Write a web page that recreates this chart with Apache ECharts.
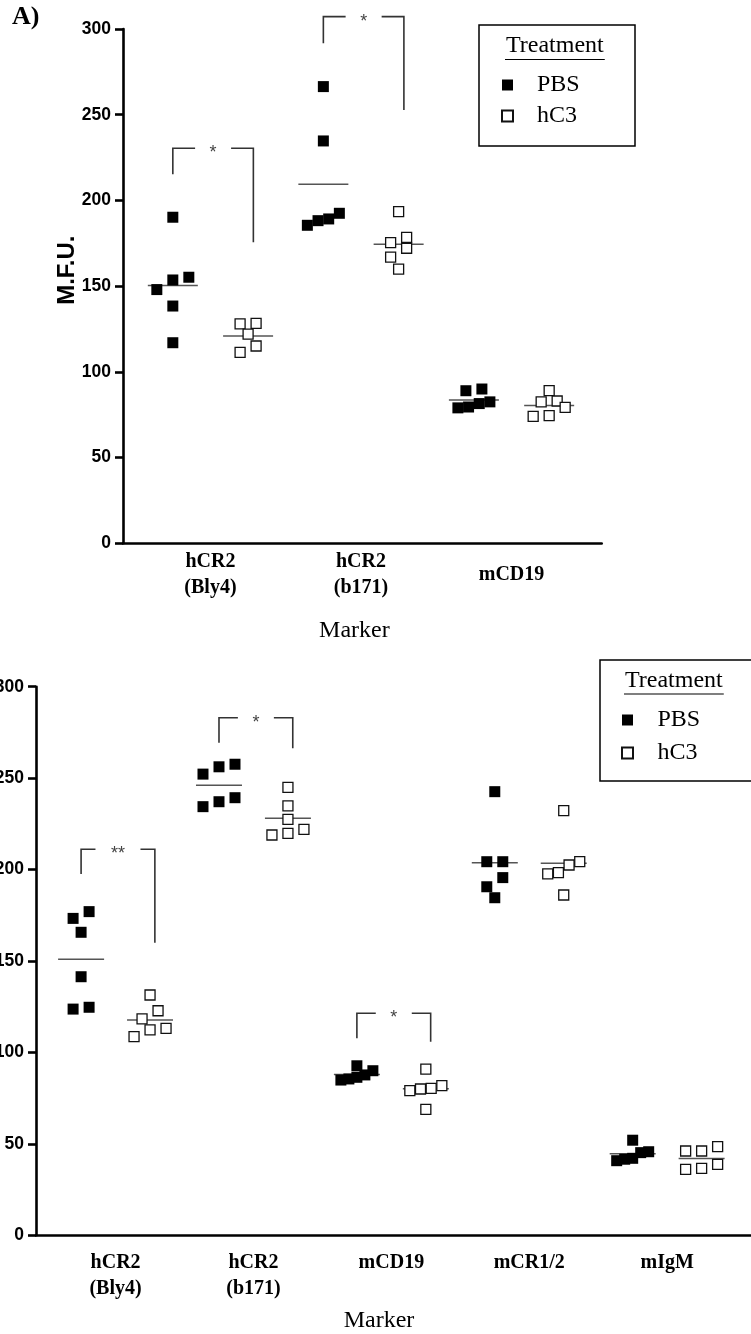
<!DOCTYPE html>
<html><head><meta charset="utf-8">
<script src="https://cdn.jsdelivr.net/npm/echarts@6/dist/echarts.min.js"></script>
<style>html,body{margin:0;padding:0;background:#fff}#c{width:751px;height:1334px}</style>
</head><body><div id="c"></div>
<script>
// ---------- data ----------
const seriesNames = ['PBS', 'hC3'];
const yTicks = [0, 50, 100, 150, 200, 250, 300];

const categoriesA = ['hCR2\n(Bly4)', 'hCR2\n(b171)', 'mCD19'];
const pbsA = [
  [190.2, 155.2, 153.6, 148.0, 138.4, 117.0],
  [266.4, 234.7, 192.5, 189.2, 188.2, 185.5],
  [90.0, 89.0, 82.5, 81.5, 79.5, 79.0]
];
const hc3A = [
  [128.3, 128.0, 122.0, 115.1, 111.4],
  [193.5, 178.5, 175.4, 172.1, 166.9, 159.9],
  [89.0, 83.0, 82.5, 79.3, 74.5, 74.0]
];
// [category index, bracket top, left foot, right foot, label]
const bracketsA = [
  [0, 230.4, 215.3, 175.6, '*'],
  [1, 307.2, 291.7, 252.8, '*']
];

const categoriesB = ['hCR2\n(Bly4)', 'hCR2\n(b171)', 'mCD19', 'mCR1/2', 'mIgM'];
const pbsB = [
  [177.0, 173.3, 165.7, 141.4, 124.7, 123.7],
  [257.6, 256.2, 252.2, 239.3, 237.1, 234.4],
  [92.7, 90.0, 87.7, 86.4, 85.5, 84.9],
  [242.6, 204.3, 204.3, 195.6, 190.6, 184.6],
  [52.0, 45.7, 45.2, 42.1, 41.6, 40.8]
];
const hc3B = [
  [131.4, 122.8, 118.3, 113.2, 112.3, 108.6],
  [245.0, 234.8, 227.5, 222.0, 219.8, 218.9],
  [90.9, 81.8, 80.4, 80.0, 79.1, 68.9],
  [232.2, 204.3, 202.5, 198.3, 197.6, 186.1],
  [48.5, 46.1, 46.1, 38.8, 36.6, 36.1]
];
const bracketsB = [
  [0, 211.1, 197.6, 160.0, '**'],
  [1, 283.0, 269.4, 266.3, '*'],
  [2, 121.4, 107.7, 105.9, '*']
];

// ---------- layout / style ----------
const GROUP_OFF = 0.25;          // PBS at k-0.25, hC3 at k+0.25
const LEG_L = -0.25, LEG_R = 0.285;
const CHAIN_PX = 10, SPAN_PX = 13, STEP_PX = 16, WIDTH_PX = 32;
const SERIF = '"Liberation Serif", "Times New Roman", serif';
const SANS = '"Liberation Sans", Arial, sans-serif';

const panels = [
  { cats: categoriesA, pbs: pbsA, hc3: hc3A, brackets: bracketsA,
    grid: { left: 123, top: 29, right: 149.3, bottom: 790.7 },
    xMin: -0.581, xMax: 2.599, labelAlign: 'middle', labelMargin: 32,
    nameGap: 75, namePad: 16, yName: 'M.F.U.', meanHalf: 25 },
  { cats: categoriesB, pbs: pbsB, hc3: hc3B, brackets: bracketsB,
    grid: { left: 36, top: 686.7, right: 0, bottom: 98.7 },
    xMin: -0.577, xMax: 4.608, labelAlign: 'top', labelMargin: 15,
    nameGap: 73, namePad: 29, yName: '', meanHalf: 23 }
];

const mean = a => a.reduce((s, v) => s + v, 0) / a.length;

const chart = echarts.init(document.getElementById('c'));

function scatterSeries(pi, which, dataFn) {
  const p = panels[pi];
  const groups = which === 0 ? p.pbs : p.hc3;
  const off = which === 0 ? -GROUP_OFF : GROUP_OFF;
  const data = [];
  groups.forEach((vals, k) => dataFn(vals, k + off, pi).forEach(d => data.push(d)));
  return {
    id: 'sc' + pi + '_' + which, name: seriesNames[which], type: 'scatter',
    xAxisIndex: pi, yAxisIndex: pi, symbol: 'rect',
    symbolSize: which === 0 ? 11 : 10, z: 4,
    itemStyle: which === 0 ? { color: '#000', borderColor: '#000', borderWidth: 0, opacity: 1 }
                           : { color: '#fff', borderColor: '#111', borderWidth: 1.3, opacity: 1 },
    emphasis: { disabled: true }, data
  };
}

function meanSeries(pi) {
  const p = panels[pi];
  const data = [];
  p.pbs.forEach((v, k) => data.push([k - GROUP_OFF, mean(v)]));
  p.hc3.forEach((v, k) => data.push([k + GROUP_OFF, mean(v)]));
  return {
    type: 'custom', xAxisIndex: pi, yAxisIndex: pi, z: 2, clip: false, silent: true,
    data,
    renderItem: (params, api) => {
      const c = api.coord([api.value(0), api.value(1)]);
      return { type: 'line', shape: { x1: c[0] - p.meanHalf, y1: c[1], x2: c[0] + p.meanHalf, y2: c[1] },
               style: { stroke: '#555', lineWidth: 1.5 } };
    }
  };
}

function bracketSeries(pi) {
  const p = panels[pi];
  return {
    type: 'custom', xAxisIndex: pi, yAxisIndex: pi, z: 2, clip: false, silent: true,
    data: p.brackets.map(b => [b[0], b[1], b[2], b[3]]),
    renderItem: (params, api) => {
      const b = p.brackets[params.dataIndex];
      const k = b[0];
      const lb = api.coord([k + LEG_L, b[2]]);
      const lt = api.coord([k + LEG_L, b[1]]);
      const rt = api.coord([k + LEG_R, b[1]]);
      const rb = api.coord([k + LEG_R, b[3]]);
      const cx = (lt[0] + rt[0]) / 2;
      const gap = b[4].length > 1 ? 22.5 : 18;
      const st = { stroke: '#333', lineWidth: 1.6, fill: null };
      return { type: 'group', children: [
        { type: 'polyline', shape: { points: [lb, lt, [cx - gap, lt[1]]] }, style: st },
        { type: 'polyline', shape: { points: [[cx + gap, rt[1]], rt, rb] }, style: st },
        { type: 'text', style: { text: b[4], x: cx, y: lt[1] + 5, align: 'center', verticalAlign: 'middle',
            font: '18px ' + SANS, fill: '#444' } }
      ] };
    }
  };
}

function buildSeries(dataFn) {
  const s = [];
  panels.forEach((p, pi) => {
    s.push(meanSeries(pi));
    s.push(bracketSeries(pi));
    s.push(scatterSeries(pi, 0, dataFn));
    s.push(scatterSeries(pi, 1, dataFn));
  });
  return s;
}

// text width for underline
const mctx = document.createElement('canvas').getContext('2d');
mctx.font = '24px "Liberation Serif"';
const twTreat = mctx.measureText('Treatment').width;

function legendBox(x, y, w, h, tx, tyBase) {
  return [
    { type: 'rect', shape: { x, y, width: w, height: h }, style: { stroke: '#000', lineWidth: 1.5, fill: null }, z: 10 },
    { type: 'text', style: { text: 'Treatment', x: tx, y: tyBase, font: '24px ' + SERIF, fill: '#000',
        align: 'left', verticalAlign: 'bottom' }, z: 10 },
    { type: 'line', shape: { x1: tx - 1, y1: tyBase + 1.5, x2: tx + twTreat + 1, y2: tyBase + 1.5 },
      style: { stroke: '#000', lineWidth: 1.2 }, z: 10 }
  ];
}

const option = {
  animation: false,
  backgroundColor: '#fff',
  grid: panels.map(p => Object.assign({ containLabel: false, outerBoundsMode: 'none' }, p.grid)),
  xAxis: panels.map((p, i) => ({
    type: 'value', gridIndex: i, min: p.xMin, max: p.xMax,
    axisLine: { show: true, onZero: false, lineStyle: { color: '#000', width: 2.6 } },
    axisTick: { show: false }, splitLine: { show: false },
    axisLabel: {
      customValues: p.cats.map((_, k) => k),
      formatter: v => p.cats[Math.round(v)],
      fontFamily: SERIF, fontWeight: 'bold', fontSize: 20, lineHeight: 26, color: '#000',
      verticalAlign: p.labelAlign, margin: p.labelMargin
    },
    name: 'Marker', nameLocation: 'middle', nameGap: p.nameGap,
    nameTextStyle: { fontFamily: SERIF, fontSize: 24, color: '#000', padding: [0, p.namePad, 0, 0] }
  })),
  yAxis: panels.map((p, i) => ({
    type: 'value', gridIndex: i, min: yTicks[0], max: yTicks[yTicks.length - 1],
    interval: yTicks[1] - yTicks[0],
    axisLine: { show: true, onZero: false, lineStyle: { color: '#000', width: 2.6 } },
    axisTick: { show: true, length: 8, lineStyle: { color: '#000', width: 2.6 } },
    splitLine: { show: false },
    axisLabel: { fontFamily: SANS, fontWeight: 'bold', fontSize: 17.5, color: '#000', margin: 12 },
    name: p.yName, nameLocation: 'middle', nameGap: 44, nameMoveOverlap: false,
    nameTextStyle: { fontFamily: SANS, fontWeight: 'bold', fontSize: 24, color: '#000', padding: [0, 0, 0, 32] }
  })),
  legend: [
    { data: seriesNames, left: 501, top: 73, orient: 'vertical', itemWidth: 11, itemHeight: 11, itemGap: 7,
      selectedMode: false, padding: 0,
      textStyle: { fontFamily: SERIF, fontSize: 24, lineHeight: 24, color: '#000', padding: [0, 0, 0, 19] } },
    { data: seriesNames, left: 621, top: 708, orient: 'vertical', itemWidth: 11, itemHeight: 11, itemGap: 9,
      selectedMode: false, padding: 0,
      textStyle: { fontFamily: SERIF, fontSize: 24, lineHeight: 24, color: '#000', padding: [0, 0, 0, 19.5] } }
  ],
  graphic: [].concat(
    legendBox(479, 25, 156, 121, 506, 58),
    legendBox(600, 660, 160, 121, 625, 692.5),
    [{ type: 'text', style: { text: 'A)', x: 12, y: 30, font: 'bold 26px ' + SERIF, fill: '#000',
        align: 'left', verticalAlign: 'bottom' } }]
  ),
  series: buildSeries((vals, x) => vals.map(v => [x, v]))
};

chart.setOption(option);

// spread points of a group horizontally (rows of close values side by side)
function spread(vals, x, pi) {
  const pts = vals.map((v, i) => ({ v, i, p: chart.convertToPixel({ gridIndex: pi }, [x, v]) }));
  const sorted = pts.slice().sort((a, b) => a.v - b.v);
  const bins = [];
  let cur = null;
  sorted.forEach(pt => {
    if (cur) {
      const last = cur[cur.length - 1], first = cur[0];
      if (last.p[1] - pt.p[1] < CHAIN_PX && first.p[1] - pt.p[1] < SPAN_PX) { cur.push(pt); return; }
    }
    cur = [pt]; bins.push(cur);
  });
  const out = new Array(vals.length);
  bins.forEach(bin => {
    const n = bin.length;
    const step = n > 1 ? Math.min(STEP_PX, WIDTH_PX / (n - 1)) : 0;
    bin.forEach((pt, j) => {
      const dx = (j - (n - 1) / 2) * step;
      out[pt.i] = [chart.convertFromPixel({ gridIndex: pi }, [pt.p[0] + dx, pt.p[1]])[0], pt.v];
    });
  });
  return out;
}

chart.setOption({ series: buildSeries(spread) });
</script>
</body></html>
